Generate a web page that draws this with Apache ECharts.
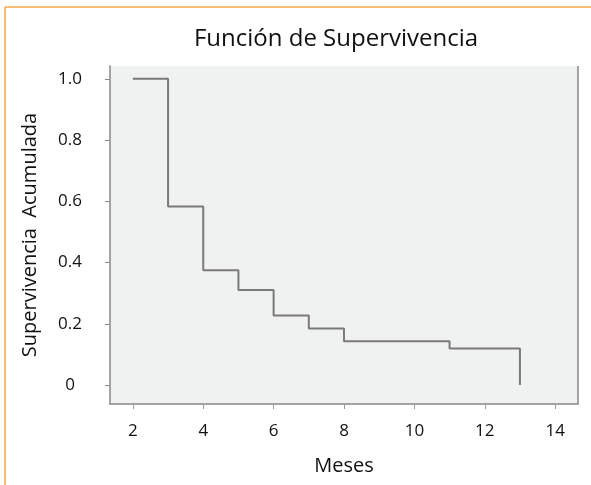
<!DOCTYPE html>
<html><head><meta charset="utf-8">
<script src="https://cdn.jsdelivr.net/npm/echarts@6/dist/echarts.min.js"></script>
<style>html,body{margin:0;padding:0;background:#fff;}#c{width:591px;height:485px;}</style>
</head><body><div id="c"></div>
<script>
var months = [2, 3, 4, 5, 6, 7, 8, 11, 13];
var survival = [1.0, 0.583, 0.375, 0.31, 0.227, 0.185, 0.143, 0.119, 0];
var xTicks = [2, 4, 6, 8, 10, 12, 14];
var yTicks = [0, 0.2, 0.4, 0.6, 0.8, 1.0];
var yTickLabels = ['0', '0.2', '0.4', '0.6', '0.8', '1.0'];

var chart = echarts.init(document.getElementById('c'));
var font = '"Open Sans", "Noto Sans", sans-serif';
chart.setOption({
  backgroundColor: '#fff',
  animation: false,
  title: {
    text: 'Función de Supervivencia', left: 331, top: 22, textAlign: 'center',
    textStyle: {fontFamily: font, fontWeight: 'normal', fontSize: 24, color: '#111'}
  },
  graphic: [
    {type: 'line', shape: {x1: 5, y1: 7, x2: 591, y2: 7}, style: {stroke: '#f5a94a', lineWidth: 1.5}},
    {type: 'line', shape: {x1: 5, y1: 7, x2: 5, y2: 485}, style: {stroke: '#f5a94a', lineWidth: 1.5}},
    {type: 'line', shape: {x1: 578, y1: 66, x2: 578, y2: 404}, style: {stroke: '#888', lineWidth: 1.5}}
  ],
  grid: {left: 110, right: 13, top: 66, bottom: 81, show: true, backgroundColor: '#f0f1f1', borderWidth: 0},
  xAxis: {
    type: 'value', min: 1.35, max: 14.65,
    name: 'Meses', nameLocation: 'middle', nameGap: 52,
    nameTextStyle: {fontFamily: font, fontSize: 20, color: '#111'},
    axisLine: {show: true, onZero: false, lineStyle: {color: '#888', width: 1.5}},
    axisTick: {show: true, length: 5, customValues: xTicks, lineStyle: {color: '#999'}},
    axisLabel: {customValues: xTicks, margin: 19, fontFamily: font, fontSize: 17, color: '#111'},
    splitLine: {show: false}
  },
  yAxis: {
    type: 'value', min: -0.062, max: 1.042,
    name: 'Supervivencia  Acumulada', nameLocation: 'middle', nameGap: 70, nameRotate: 90,
    nameTextStyle: {fontFamily: font, fontSize: 20, color: '#111'},
    axisLine: {show: true, onZero: false, lineStyle: {color: '#888', width: 1.5}},
    axisTick: {show: true, length: 5, customValues: yTicks, lineStyle: {color: '#888'}},
    axisLabel: {customValues: yTicks, margin: 40, align: 'center', fontFamily: font, fontSize: 17, color: '#111',
      formatter: function (v) { var i = yTicks.findIndex(function (t) { return Math.abs(t - v) < 1e-6; }); return i >= 0 ? yTickLabels[i] : ''; }},
    splitLine: {show: false}
  },
  series: [{
    type: 'line', step: 'end', symbol: 'none',
    data: months.map(function (m, i) { return [m, survival[i]]; }),
    lineStyle: {color: '#7a7a7a', width: 2}
  }]
});
</script></body></html>
